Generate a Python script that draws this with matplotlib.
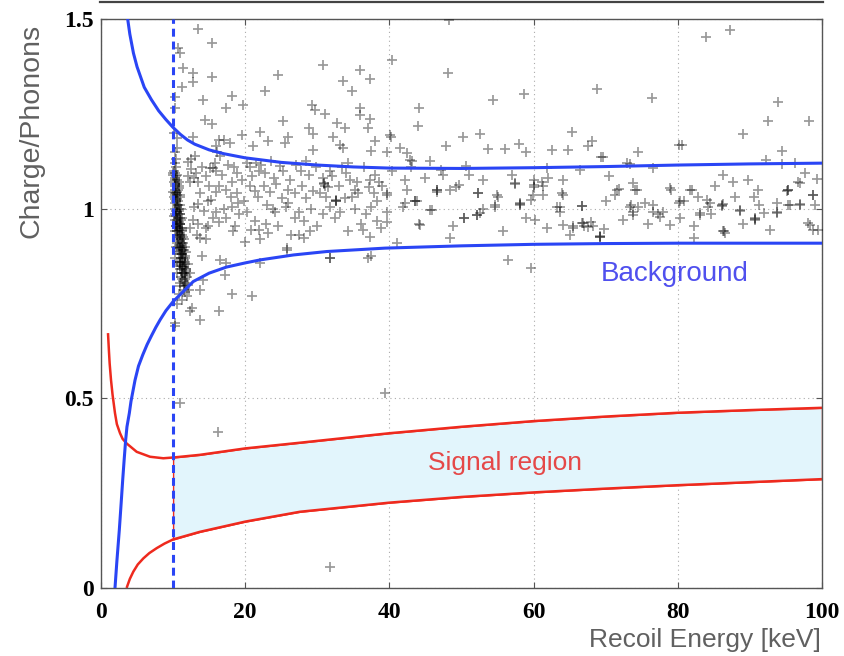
import numpy as np
import matplotlib
matplotlib.use("Agg")
import matplotlib.pyplot as plt
from matplotlib.lines import Line2D

# ---------------- data ----------------
x_ticks = [0, 20, 40, 60, 80, 100]
x_tick_labels = ["0", "20", "40", "60", "80", "100"]
y_ticks = [0, 0.5, 1.0, 1.5]
y_tick_labels = ["0", "0.5", "1", "1.5"]

threshold_kev = 10

blue_upper_x = [3.7, 4.0, 4.5, 5, 6, 7, 8, 9, 10, 11, 12, 13, 15, 17, 20, 25, 30, 35, 40, 50, 60, 70, 80, 90, 100]
blue_upper_y = [1.50, 1.46, 1.41, 1.374, 1.32, 1.287, 1.258, 1.235, 1.214, 1.196, 1.181, 1.170, 1.155, 1.145, 1.134,
                1.122, 1.115, 1.110, 1.107, 1.106, 1.108, 1.111, 1.115, 1.118, 1.120]

blue_lower_x = [1.94, 2.2, 2.54, 2.8, 3.01, 3.2, 3.42, 3.6, 3.93, 4.16, 4.72, 5.2, 5.8, 6.4, 7.0, 7.6, 8.2, 9.0, 10,
                12.8, 15, 17.4, 20, 22.1, 26.7, 31.3, 39.4, 50, 60, 70, 80, 90, 100]
blue_lower_y = [0.0, 0.07, 0.153, 0.225, 0.285, 0.335, 0.390, 0.425, 0.461, 0.492, 0.548, 0.585, 0.615, 0.642, 0.665,
                0.687, 0.707, 0.731, 0.755, 0.808, 0.830, 0.846, 0.857, 0.865, 0.878, 0.887, 0.896, 0.902, 0.906,
                0.908, 0.909, 0.909, 0.909]

red_upper_x = [0.97, 1.1, 1.2, 1.39, 1.6, 1.94, 2.2, 2.64, 3.0, 3.56, 4.95, 6.8, 8.64, 10, 13.7, 20, 27.6, 40, 50,
               60, 70, 80, 90, 100]
red_upper_y = [0.672, 0.625, 0.592, 0.548, 0.510, 0.461, 0.432, 0.408, 0.393, 0.381, 0.359, 0.346, 0.342, 0.344,
               0.351, 0.368, 0.383, 0.408, 0.425, 0.440, 0.452, 0.462, 0.469, 0.475]

red_lower_x = [3.55, 4.0, 4.48, 5.1, 5.87, 6.7, 7.72, 8.8, 10, 13.7, 20, 27.6, 40, 50, 60, 70, 80, 90, 100]
red_lower_y = [0.0, 0.024, 0.043, 0.062, 0.078, 0.092, 0.105, 0.117, 0.128, 0.148, 0.175, 0.201, 0.225, 0.240,
               0.252, 0.262, 0.271, 0.279, 0.287]

# signal-region band (x >= threshold), same x grid for both edges
signal_x = [10, 13.7, 20, 27.6, 40, 50, 60, 70, 80, 90, 100]
signal_top = [0.344, 0.351, 0.368, 0.383, 0.408, 0.425, 0.440, 0.452, 0.462, 0.469, 0.475]
signal_bottom = [0.128, 0.148, 0.175, 0.201, 0.225, 0.240, 0.252, 0.262, 0.271, 0.279, 0.287]

# events above the upper band
upper_x = [13.5, 15.35, 10.7, 11.0, 11.4, 12.8, 12.7, 15.35, 11.2, 10.3, 14.1, 18.1, 17.4, 19.7, 22.7, 24.5, 30.8,
           35.9, 37.3, 33.5, 34.8, 29.2, 29.7, 31.1, 35.9, 35.9, 37.3, 25.3, 14.4, 15.35, 10.3, 32.7, 33.8, 37.1, 28.8,
           29.4, 32.2, 22.0, 23.2, 26.0, 25.5, 19.5, 17.0, 17.9, 38.0, 37.5, 29.4, 21.1, 10.5,
           48.2, 40.4, 48.1, 44.1, 43.9, 54.4, 58.6, 68.8, 40.2, 39.6, 41.5, 42.4, 43.1, 45.6, 47.8, 50.2, 52.6, 53.7,
           56.0, 58.0, 59.0, 62.5, 64.8, 65.3, 67.6, 68.1, 69.4, 50.6, 61.8, 66.4,
           83.9, 87.2, 76.4, 93.9, 92.5, 98.2, 89.1, 80.2, 80.6, 74.5, 69.6, 94.4, 72.9, 73.4, 76.5, 92.2, 94.4, 96.3,
           12.8, 16.0, 16.4, 12.1, 12.5, 13.0, 16.1, 16.5, 15.1, 15.6, 16.0, 18.4, 20.7, 21.5, 22.2, 21.9, 24.8, 27.8,
           28.4, 30.8, 31.7, 33.4, 34.3, 37.3, 38.5, 40.4, 33.1, 33.6, 40.1, 10.2, 10.4, 10.1, 10.6]
upper_y = [1.474, 1.436, 1.423, 1.41, 1.37, 1.357, 1.335, 1.348, 1.322, 1.295, 1.287, 1.298, 1.265, 1.272, 1.309,
           1.352, 1.379, 1.366, 1.342, 1.337, 1.309, 1.273, 1.26, 1.249, 1.266, 1.247, 1.236, 1.231, 1.234, 1.223,
           1.265, 1.225, 1.212, 1.212, 1.212, 1.196, 1.19, 1.201, 1.179, 1.19, 1.172, 1.194, 1.181, 1.172, 1.179,
           1.152, 1.155, 1.164, 1.186,
           1.497, 1.392, 1.357, 1.265, 1.219, 1.287, 1.302, 1.316, 1.19, 1.15, 1.161, 1.146, 1.126, 1.126, 1.166,
           1.188, 1.197, 1.157, 1.157, 1.17, 1.15, 1.155, 1.155, 1.203, 1.164, 1.179, 1.137, 1.113, 1.106, 1.102,
           1.452, 1.471, 1.293, 1.28, 1.232, 1.232, 1.196, 1.168, 1.167, 1.15, 1.137, 1.152, 1.12, 1.118, 1.106,
           1.127, 1.117, 1.12,
           1.19, 1.164, 1.18, 1.124, 1.13, 1.14, 1.15, 1.14, 1.106, 1.106, 1.10, 1.11, 1.111, 1.12, 1.115, 1.10,
           1.112, 1.098, 1.125, 1.08, 1.098, 1.11, 1.12, 1.076, 1.07, 1.10, 1.168, 1.16, 1.194, 1.15, 1.13, 1.20, 1.16]

# main electron-recoil band
band_x = [12.0, 12.4, 12.9, 13.5, 16.0, 16.3, 17.3, 18.2, 18.8, 20.7, 21.3, 21.8, 22.6, 23.4, 24.3, 25.1, 25.9, 26.9,
          27.9, 28.4, 29.4, 30.9, 31.5, 32.6, 33.8, 35.2, 35.7, 37.2, 38.3, 39.6,
          12.9, 13.4, 14.3, 15.2, 16.0, 16.4, 17.1, 17.3, 18.1, 19.2, 20.2, 21.3, 21.9, 22.9, 24.1, 24.6, 25.6, 26.9,
          27.4, 28.1, 29.1, 30.0, 30.8, 31.7, 32.4, 33.2, 34.2, 35.2, 36.0, 36.8, 37.5, 38.3, 39.6,
          13.3, 14.6, 18.3, 22.0, 25.8, 27.4, 31.8, 37.1, 30.9, 32.6, 14.8, 19.0, 23.8, 26.3, 34.6, 36.3,
          42.2, 42.9, 43.0, 42.4, 41.9, 43.5, 44.2, 45.9, 46.6, 47.2, 47.4, 49.6, 48.4, 50.3, 52.3, 52.1, 53.0, 53.0,
          54.6, 55.1, 57.4, 58.1, 59.0, 59.7, 60.0, 60.1, 61.1, 61.3, 63.2, 64.1, 64.1, 65.5, 66.7, 67.0, 68.3, 69.2,
          66.7, 71.5, 71.3, 71.9, 73.8, 74.0, 74.4, 73.4, 73.8, 74.5, 76.6, 77.3, 79.0, 80.1, 80.3, 81.7, 82.0, 82.2,
          83.1, 84.0, 84.2, 84.6, 86.1, 86.3, 86.4, 87.7, 88.6, 89.8, 90.5, 90.7, 91.1, 91.2, 93.7, 93.7, 95.3, 95.3,
          96.7, 96.9, 97.6, 98.8, 99.0, 98.3, 98.8,
          39.6, 42.2, 43.8, 45.6, 46.6, 49.3, 52.3, 52.6, 54.9, 57.4, 58.1, 60.0, 59.9, 61.3, 63.7, 63.9, 63.6,
          72.4, 77.5, 80.3, 83.1, 90.7, 88.6, 91.9, 93.7, 86.3, 84.5, 80.8, 97.0, 95.6, 95.1, 98.8, 97.0, 73.8, 73.5,
          75.4, 76.5, 78.9, 90.7, 58.1, 46.6, 43.5, 69.2, 86.1, 95.3, 31.0, 32.6,
          45.0, 48.8, 51.0, 55.8, 62.0, 68.0, 70.5, 75.8, 78.0, 85.2, 88.0, 92.8, 99.3, 57.0, 65.0, 70.0, 82.8, 89.0,
          12.5, 13.2, 14.0, 14.5, 15.0, 15.8, 16.8, 17.6, 18.0, 18.9, 19.5, 20.2, 21.0, 22.8, 23.6, 24.0, 25.2, 26.2,
          27.0, 28.8, 29.8, 30.4, 32.0, 33.0, 34.0, 35.5, 36.5, 38.0, 39.0, 13.8, 14.9, 15.5, 19.8, 20.8, 23.0, 26.0,
          29.0, 31.2, 34.8, 37.8, 12.3, 12.8, 13.5, 14.6, 18.6]
band_y = [1.085, 1.07, 1.08, 1.07, 1.045, 1.06, 1.05, 1.07, 1.04, 1.06, 1.047, 1.03, 1.06, 1.045, 1.065, 1.027,
          1.05, 1.04, 1.06, 1.027, 1.047, 1.065, 1.057, 1.02, 1.027, 1.05, 1.04, 1.057, 1.02, 1.035,
          1.005, 1.012, 0.995, 1.023, 0.99, 0.965, 1.0, 0.975, 1.005, 0.985, 0.99, 0.967, 0.945, 0.96, 0.99, 0.955,
          1.005, 0.975, 0.99, 0.967, 1.0, 0.955, 0.985, 1.005, 0.975, 0.99, 0.94, 1.0, 0.96, 0.985, 1.005, 0.967, 0.99,
          0.93, 0.92, 0.94, 0.92, 0.891, 0.93, 0.87, 0.87, 1.068, 1.022, 0.955, 1.015, 1.0, 0.93, 1.075, 0.945,
          1.076, 1.128, 1.109, 1.049, 1.005, 1.019, 0.957, 0.997, 1.049, 1.102, 1.09, 1.062, 1.049, 0.975, 1.041,
          0.983, 1.076, 1.0, 1.005, 1.032, 1.067, 1.010, 0.975, 1.023, 1.062, 1.075, 1.071, 1.06, 1.005, 1.036, 1.076,
          0.953, 0.961, 0.955, 0.953, 0.926, 1.007, 1.049, 1.035, 1.052, 1.067, 1.05, 1.05, 1.005, 0.983, 1.005, 0.992,
          0.985, 1.049, 1.014, 1.02, 1.049, 1.05, 0.953, 0.983, 1.023, 1.005, 0.985, 1.010, 1.089, 0.94, 1.071, 0.997,
          1.076, 1.032, 0.975, 1.05, 1.01, 1.014, 0.99, 1.010, 1.049, 1.071, 1.01, 1.093, 1.036, 1.01, 0.957, 0.945,
          1.04, 1.014, 1.019, 0.997, 1.045, 1.058, 1.04, 0.988, 1.036, 1.065, 1.014, 1.058, 1.035, 1.036, 1.005, 1.04,
          0.99,
          0.970, 0.979, 0.975, 0.988, 0.970, 0.995, 0.988, 0.988, 1.012, 1.014, 1.019, 1.012, 1.010, 1.047, 1.036,
          1.067, 0.992, 1.01,
          1.014, 1.01, 1.054, 0.972, 1.012, 1.048, 1.02, 0.928, 1.008, 1.048, 1.06, 1.02,
          1.08, 0.955, 1.09, 0.94, 1.08, 0.965, 1.085, 0.96, 0.99, 1.06, 1.03, 0.945, 1.078, 1.09, 0.93, 1.02, 1.03,
          0.96,
          1.105, 1.095, 1.11, 1.085, 1.06, 1.12, 1.09, 1.115, 1.03, 1.095, 1.075, 1.12, 1.085, 1.095, 1.125, 1.08,
          1.10, 1.075, 1.115, 1.09, 1.11, 1.04, 1.085, 1.06, 1.095, 1.07, 1.11, 1.09, 1.06, 1.04, 1.02, 0.975, 1.02,
          0.945, 1.01, 1.015, 0.94, 1.03, 1.03, 1.04, 0.95, 0.97, 0.96, 0.95, 0.955]

# dense low-energy column just above threshold
column_x = [10.1, 10.3, 10.0, 10.4, 10.2, 10.6, 10.1, 10.5, 10.3, 10.8, 10.2, 10.6, 10.4, 10.9, 10.1, 10.5, 10.7,
            10.3, 10.9, 10.5, 10.2, 10.8, 10.6, 11.0, 10.4, 10.7, 11.1, 10.5, 10.9, 10.6, 11.2, 10.8, 10.5, 11.0, 11.3,
            10.7, 11.1, 10.9, 11.4, 10.8, 11.2, 11.0, 11.5, 10.9, 11.3, 11.6, 11.1, 11.4, 10.9, 11.7, 11.2, 11.5, 11.0,
            11.8, 11.3, 11.6, 11.1, 11.4, 11.8, 11.0, 11.5, 10.8, 11.9, 11.2, 10.6,
            10.3, 10.7, 10.4, 10.8, 10.3, 10.7, 11.0, 10.6, 11.1, 11.4, 11.0, 11.3, 11.6, 10.9, 10.4, 10.2, 10.5, 10.9,
            11.2, 11.3, 10.2, 10.6, 10.4, 10.8, 10.5, 11.0, 10.7, 11.2, 10.9, 11.5,
            10.0, 10.6, 10.2, 10.8, 10.0, 10.5, 11.0, 10.2, 10.7, 11.1, 10.4, 10.9, 10.3, 11.2, 10.6, 10.4, 11.0, 11.3,
            10.6, 10.9, 11.4, 10.7, 11.2, 11.6, 10.9, 11.4, 11.1, 11.7, 11.2, 11.6, 11.0, 11.4, 11.8, 11.2, 11.6, 11.9,
            11.3, 11.7, 12.1, 11.5, 12.2, 11.7, 10.5, 10.6, 10.2, 10.1, 10.3, 10.8, 11.0, 11.5, 11.8, 12.0, 12.3, 10.8,
            10.4, 10.2]
column_y = [1.10, 1.095, 1.09, 1.085, 1.08, 1.075, 1.07, 1.065, 1.06, 1.055, 1.05, 1.045, 1.04, 1.035, 1.03, 1.025,
            1.02, 1.015, 1.01, 1.005, 1.0, 0.995, 0.99, 0.985, 0.98, 0.975, 0.97, 0.965, 0.96, 0.955, 0.95, 0.945,
            0.94, 0.935, 0.93, 0.925, 0.92, 0.915, 0.91, 0.905, 0.9, 0.895, 0.89, 0.885, 0.88, 0.875, 0.87, 0.865,
            0.86, 0.855, 0.85, 0.845, 0.84, 0.835, 0.83, 0.825, 0.82, 0.81, 0.80, 0.795, 0.785, 0.775, 0.77, 0.76, 0.75,
            1.075, 1.05, 1.02, 1.0, 0.97, 0.95, 0.925, 0.91, 0.89, 0.87, 0.85, 0.84, 0.815, 0.805, 1.11, 1.12, 0.99,
            0.975, 0.94, 0.905, 1.035, 1.01, 0.955, 0.965, 0.93, 0.96, 0.9, 0.88, 0.86, 0.83,
            1.095, 1.09, 1.065, 1.06, 1.045, 1.035, 1.03, 1.025, 1.01, 1.0, 0.995, 0.985, 0.985, 0.975, 0.97, 0.955,
            0.95, 0.945, 0.94, 0.93, 0.925, 0.92, 0.91, 0.9, 0.895, 0.89, 0.88, 0.87, 0.86, 0.86, 0.855, 0.845, 0.84,
            0.83, 0.83, 0.82, 0.815, 0.805, 0.80, 0.795, 0.785, 0.78, 0.86, 0.83, 0.94, 0.98, 1.04, 1.07, 0.96, 0.92,
            0.885, 0.855, 0.83, 0.88, 0.9, 0.87]

# events between the upper band and the signal region
low_x = [14.0, 16.5, 17.4, 17.2, 18.1, 21.0, 16.3, 13.7, 12.6, 12.4, 10.3, 10.2, 14.2, 13.7, 22.1, 25.8, 31.8, 37.5,
         28.1, 37.3, 13.7, 20.0, 23.2, 56.5, 59.7, 48.4, 41.0, 61.8, 65.5, 66.9, 67.5, 69.2, 64.1, 44.1, 50.3, 52.1,
         60.2, 66.7, 54.6, 39.6, 38.9, 82.2, 78.9, 86.5, 86.3, 69.7, 98.1, 99.5,
         39.4, 11.0, 16.2, 31.8]
low_y = [0.875, 0.865, 0.856, 0.825, 0.774, 0.771, 0.731, 0.707, 0.737, 0.73, 0.698, 0.69, 0.812, 0.786, 0.856,
         0.896, 0.869, 0.874, 0.922, 0.926, 0.922, 0.913, 0.935, 0.865, 0.843, 0.922, 0.909, 0.948, 0.948, 0.963,
         0.952, 0.925, 0.957, 0.96, 0.975, 0.983, 0.97, 1.007, 1.01, 0.966, 0.95, 0.922, 0.957, 0.935, 0.94, 0.946,
         0.961, 0.944,
         0.514, 0.487, 0.41, 0.055]

# ---------------- figure ----------------
W, H = 845, 656
fig = plt.figure(figsize=(W / 100, H / 100), dpi=100)
ax = fig.add_axes([101 / W, 1 - 588 / H, 721 / W, 569 / H])

blue = "#2a45f5"
red = "#ee2a1e"

ax.fill_between(signal_x, signal_bottom, signal_top, facecolor="#e2f5fc", edgecolor=red, linewidth=1.0, zorder=1)
ax.plot(red_upper_x, red_upper_y, color=red, lw=1.8, zorder=2, solid_capstyle="butt")
ax.plot(red_lower_x, red_lower_y, color=red, lw=1.8, zorder=2, solid_capstyle="butt")

for px, py in [(upper_x, upper_y), (band_x, band_y), (column_x, column_y), (low_x, low_y)]:
    ax.plot(px, py, linestyle="none", marker="+", markersize=7.8, markeredgewidth=1.25,
            color="black", alpha=0.4, zorder=3)

ax.plot(blue_upper_x, blue_upper_y, color=blue, lw=2.2, zorder=4)
ax.plot(blue_lower_x, blue_lower_y, color=blue, lw=2.2, zorder=4)
ax.axvline(threshold_kev, color=blue, lw=2.2, dashes=(2.6, 1.6), zorder=5)

ax.text(79.6, 0.828, "Background", color="#5050ee", fontsize=20, ha="center", va="center",
        family="Liberation Sans", zorder=6)
ax.text(56.1, 0.330, "Signal region", color="#e54848", fontsize=19, ha="center", va="center",
        family="Liberation Sans", zorder=6)

ax.set_xlim(0, 100)
ax.set_ylim(0, 1.5)
ax.set_xticks(x_ticks)
ax.set_xticklabels(x_tick_labels)
ax.set_yticks(y_ticks)
ax.set_yticklabels(y_tick_labels)
for lab in ax.get_xticklabels() + ax.get_yticklabels():
    lab.set_family("Liberation Serif")
    lab.set_fontweight("bold")
    lab.set_fontsize(17)
ax.tick_params(axis="both", direction="in", length=4, width=0.8, color="#555555",
               top=True, right=True)
ax.tick_params(axis="x", pad=10)
ax.tick_params(axis="y", pad=5)
ax.grid(True, linestyle=(0, (1, 3)), color="#aaaaaa", linewidth=0.8)
ax.set_axisbelow(True)
for s in ax.spines.values():
    s.set_color("#555555")
    s.set_linewidth(1.0)

fig.text(32 / W, 1 - 131 / H, "Charge/Phonons", rotation=90, ha="center", va="center",
         fontsize=20.5, color="#606060", family="Liberation Sans")
fig.text(821 / W, 1 - 640 / H, "Recoil Energy [keV]", ha="right", va="center",
         fontsize=19, color="#606060", family="Liberation Sans")

# cut-off edge of the panel above
fig.add_artist(Line2D([100 / W, 823 / W], [1 - 1.5 / H, 1 - 1.5 / H], color="#444444", lw=1.6,
                      transform=fig.transFigure))

fig.savefig("out.png", dpi=100)
